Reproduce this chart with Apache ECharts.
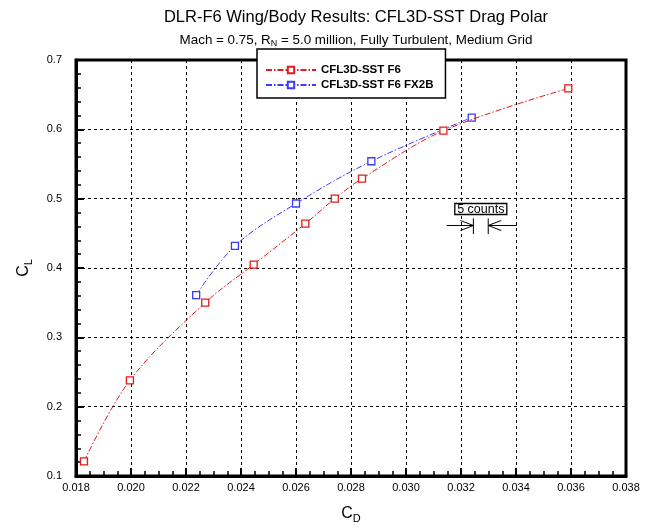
<!DOCTYPE html>
<html>
<head>
<meta charset="utf-8">
<script src="https://cdn.jsdelivr.net/npm/echarts@6/dist/echarts.min.js"></script>
<style>html,body{margin:0;padding:0;background:#fff}#c{width:652px;height:529px}</style>
</head>
<body>
<div id="c"></div>
<script>
// ---- data ----
const seriesNames = ['CFL3D-SST F6', 'CFL3D-SST F6 FX2B'];
const f6_CD = [0.01829, 0.01996, 0.02270, 0.02446, 0.02634, 0.02741, 0.02840, 0.03136, 0.03590];
const f6_CL = [0.121, 0.238, 0.350, 0.405, 0.464, 0.500, 0.529, 0.598, 0.659];
const fx2b_CD = [0.02237, 0.02378, 0.02600, 0.02874, 0.03239];
const fx2b_CL = [0.361, 0.432, 0.493, 0.554, 0.617];
const xTicks = [0.018, 0.020, 0.022, 0.024, 0.026, 0.028, 0.030, 0.032, 0.034, 0.036, 0.038];
const yTicks = [0.1, 0.2, 0.3, 0.4, 0.5, 0.6, 0.7];
// "5 counts" annotation in data units
const countsBars = [0.03245, 0.03299];
const countsBarCL = [0.449, 0.4716];
const countsArrowCL = 0.4613;
const countsArrowFrom = [0.03148, 0.03403];
const countsLabelAt = [0.03272, 0.4851];

const FONT = '"Liberation Sans", Arial, Helvetica, sans-serif';
const pair = (xs, ys) => xs.map((x, i) => [x, ys[i]]);

const chart = echarts.init(document.getElementById('c'), null, {renderer: 'canvas'});

const option = {
  animation: false,
  backgroundColor: '#fff',
  textStyle: {fontFamily: FONT, color: '#000'},
  title: [
    {text: 'DLR-F6 Wing/Body Results: CFL3D-SST Drag Polar', left: 351, top: 4, textAlign: 'center',
     textStyle: {fontFamily: FONT, fontSize: 16.5, fontWeight: 'normal', color: '#000'}},
    {text: 'Mach = 0.75, R{sub|N} = 5.0 million, Fully Turbulent, Medium Grid', left: 351, top: 27, textAlign: 'center',
     textStyle: {fontFamily: FONT, fontSize: 13.4, fontWeight: 'normal', color: '#000',
       rich: {sub: {fontSize: 9, verticalAlign: 'bottom', padding: [7, 0, 0, 0], fontFamily: FONT}}}}
  ],
  legend: {
    orient: 'vertical', left: 257, top: 49, z: 10,
    backgroundColor: '#fff', borderColor: '#000', borderWidth: 1.5,
    padding: [14, 12, 6, 8], itemGap: 1, itemWidth: 50, itemHeight: 8,
    textStyle: {fontFamily: FONT, fontSize: 11.5, fontWeight: 'bold', color: '#000', lineHeight: 14},
    data: seriesNames
  },
  grid: {left: 76, right: 26, top: 60, bottom: 45, show: true, borderColor: '#000', borderWidth: 3, backgroundColor: 'transparent'},
  xAxis: {
    type: 'value', min: xTicks[0], max: xTicks[xTicks.length - 1], interval: 0.002,
    name: 'C{sub|D}', nameLocation: 'middle', nameGap: 27,
    nameTextStyle: {fontFamily: FONT, fontSize: 16, color: '#000',
      rich: {sub: {fontSize: 11, verticalAlign: 'bottom', padding: [10, 0, 0, 0], fontFamily: FONT}}},
    axisLine: {show: true, lineStyle: {color: '#000', width: 3}},
    axisTick: {show: true, inside: true, length: 8, lineStyle: {color: '#000', width: 2}},
    minorTick: {show: true, splitNumber: 4, length: 5, lineStyle: {color: '#000', width: 1.5}},
    splitLine: {show: true, lineStyle: {color: '#000', width: 1, type: [3, 3]}},
    axisLabel: {fontFamily: FONT, fontSize: 11, color: '#000', margin: 6,
      formatter: v => v.toFixed(3)}
  },
  yAxis: {
    type: 'value', min: yTicks[0], max: yTicks[yTicks.length - 1], interval: 0.1,
    name: 'C{sub|L}', nameLocation: 'middle', nameGap: 42, nameRotate: 90,
    nameTextStyle: {fontFamily: FONT, fontSize: 16, color: '#000',
      rich: {sub: {fontSize: 11, verticalAlign: 'bottom', padding: [10, 0, 0, 0], fontFamily: FONT}}},
    axisLine: {show: true, lineStyle: {color: '#000', width: 3}},
    axisTick: {show: true, inside: true, length: 8, lineStyle: {color: '#000', width: 2}},
    minorTick: {show: true, splitNumber: 5, length: 5, lineStyle: {color: '#000', width: 1.5}},
    splitLine: {show: true, lineStyle: {color: '#000', width: 1, type: [3, 3]}},
    axisLabel: {fontFamily: FONT, fontSize: 11, color: '#000', margin: 14,
      formatter: v => v.toFixed(1)}
  },
  series: [
    {
      name: seriesNames[0], type: 'line', data: pair(f6_CD, f6_CL),
      smooth: 0.35, symbol: 'rect', symbolSize: 7, z: 5,
      lineStyle: {color: '#e41a1c', width: 1, type: [6, 2, 1.5, 2]},
      itemStyle: {color: '#fff', borderColor: '#e41a1c', borderWidth: 1.3}
    },
    {
      name: seriesNames[1], type: 'line', data: pair(fx2b_CD, fx2b_CL),
      smooth: 0.35, symbol: 'rect', symbolSize: 7, z: 4,
      lineStyle: {color: '#3a3aff', width: 1, type: [6, 2, 1.5, 2]},
      itemStyle: {color: '#fff', borderColor: '#3a3aff', borderWidth: 1.3}
    },
    {
      name: 'counts', type: 'custom', data: [0], z: 6, silent: true,
      renderItem: function (params, api) {
        const children = [];
        const st = {stroke: '#000', lineWidth: 1, fill: null};
        countsBars.forEach(x => {
          const a = api.coord([x, countsBarCL[0]]), b = api.coord([x, countsBarCL[1]]);
          children.push({type: 'line', shape: {x1: a[0], y1: a[1], x2: b[0], y2: b[1]}, style: st});
        });
        countsBars.forEach((x, i) => {
          const tip = api.coord([x, countsArrowCL]);
          const from = api.coord([countsArrowFrom[i], countsArrowCL]);
          children.push({type: 'line', shape: {x1: from[0], y1: from[1], x2: tip[0], y2: tip[1]}, style: st});
          const d = from[0] < tip[0] ? -1 : 1;
          children.push({type: 'polyline', shape: {points: [[tip[0] + d * 13, tip[1] - 5], tip, [tip[0] + d * 13, tip[1] + 5]]}, style: st});
        });
        const c = api.coord(countsLabelAt);
        children.push({type: 'rect', shape: {x: c[0] - 26, y: c[1] - 5.5, width: 52, height: 11},
          style: {fill: '#fff', stroke: '#000', lineWidth: 1.3}});
        children.push({type: 'text', x: c[0], y: c[1] + 0.5,
          style: {text: '5 counts', fontFamily: FONT, fontSize: 12.5, fontWeight: 'normal', fill: '#000', align: 'center', verticalAlign: 'middle'}});
        return {type: 'group', children: children};
      }
    }
  ]
};
chart.setOption(option);
</script>
</body>
</html>
